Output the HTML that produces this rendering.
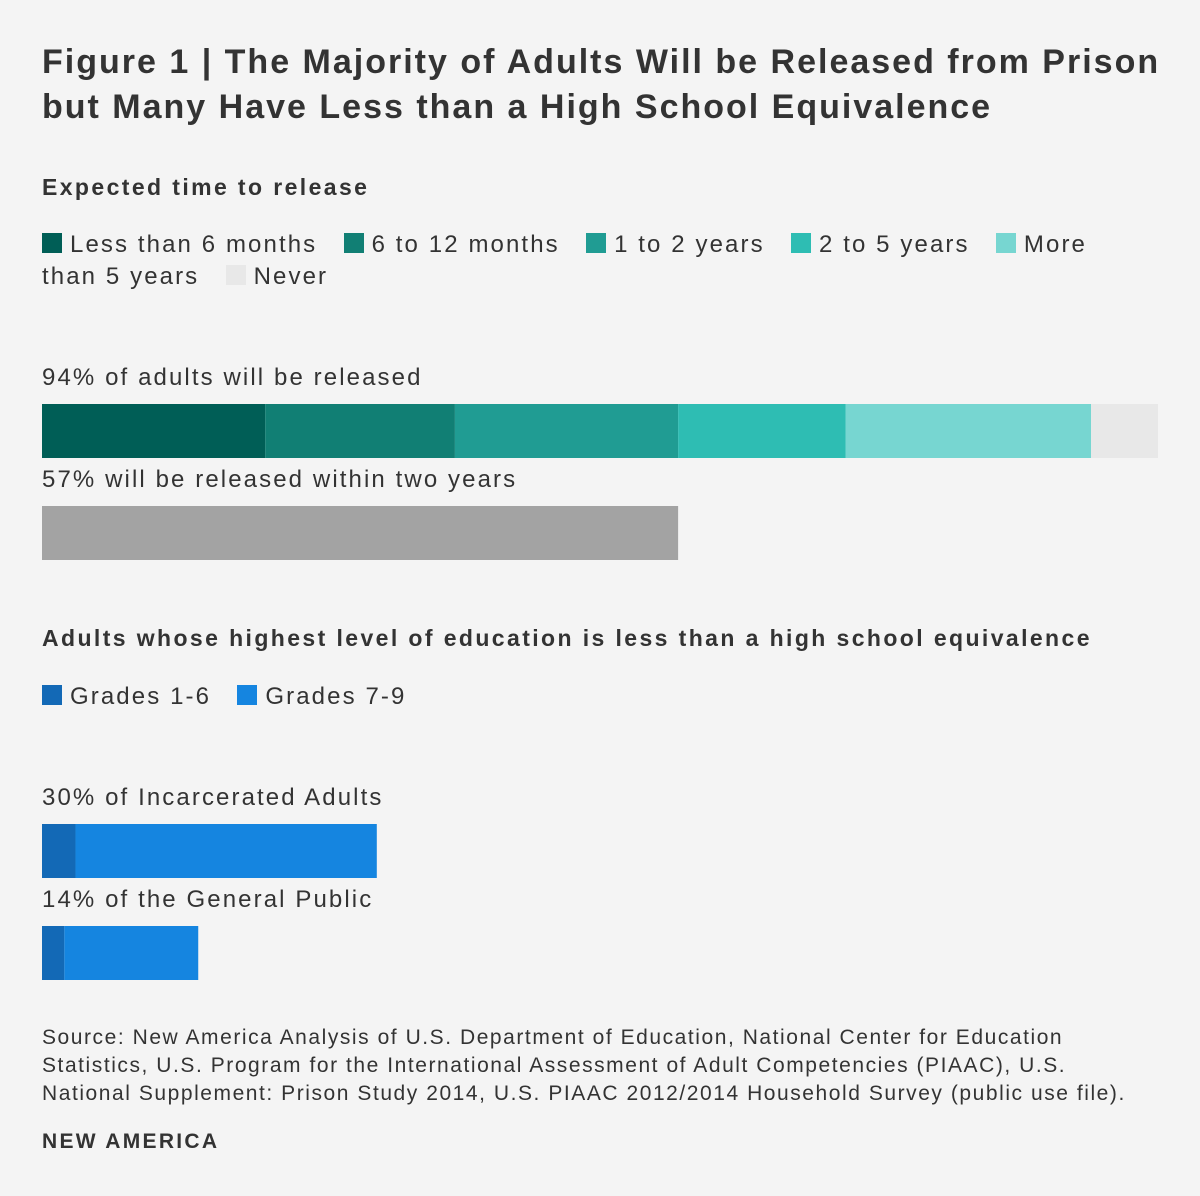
<!DOCTYPE html>
<html><head><meta charset="utf-8"><style>
body{margin:0;background:#f4f4f4;}
#root{position:relative;width:1200px;height:1196px;background:#f4f4f4;font-family:"Liberation Sans",sans-serif;color:#333;overflow:hidden}
.t{position:absolute;left:42px;white-space:nowrap}
.title{font-size:34px;font-weight:bold;line-height:45px;top:40px;color:#333;letter-spacing:2.0px}
.h{font-size:23px;font-weight:bold;letter-spacing:2.4px}
.lg{font-size:24px;line-height:32px;letter-spacing:2.1px}
.sw{display:inline-block;width:20px;height:20px;margin-right:8px;vertical-align:-1px}
.lab{font-size:24px;letter-spacing:2.1px}
.src{font-size:21px;line-height:28px;letter-spacing:1.55px}
svg{position:absolute;left:0;top:0}
</style></head><body>
<div id="root">
<div class="t title">Figure 1 | The Majority of Adults Will be Released from Prison<br>but Many Have Less than a High School Equivalence</div>
<div class="t h" style="top:174px">Expected time to release</div>
<div class="t lg" style="top:229px">
<span><span class="sw" style="background:#005e56"></span>Less than 6 months</span>&nbsp;&nbsp;
<span><span class="sw" style="background:#117f74"></span>6 to 12 months</span>&nbsp;&nbsp;
<span><span class="sw" style="background:#209c93"></span>1 to 2 years</span>&nbsp;&nbsp;
<span><span class="sw" style="background:#2ebdb3"></span>2 to 5 years</span>&nbsp;&nbsp;
<span><span class="sw" style="background:#77d6d1"></span>More<br>than 5 years</span>&nbsp;&nbsp;
<span><span class="sw" style="background:#e8e8e8"></span>Never</span>
</div>
<div class="t lab" style="top:364px">94% of adults will be released</div>
<div class="t lab" style="top:466px">57% will be released within two years</div>
<div class="t h" style="top:625px">Adults whose highest level of education is less than a high school equivalence</div>
<div class="t lg" style="top:681px">
<span><span class="sw" style="background:#1369b6"></span>Grades 1-6</span>&nbsp;&nbsp;
<span><span class="sw" style="background:#1585e0"></span>Grades 7-9</span>
</div>
<div class="t lab" style="top:784px">30% of Incarcerated Adults</div>
<div class="t lab" style="top:886px">14% of the General Public</div>
<div class="t src" style="top:1024px">Source: New America Analysis of U.S. Department of Education, National Center for Education<br>Statistics, U.S. Program for the International Assessment of Adult Competencies (PIAAC), U.S.<br>National Supplement: Prison Study 2014, U.S. PIAAC 2012/2014 Household Survey (public use file).</div>
<div class="t" style="top:1130px;font-size:21px;font-weight:bold;letter-spacing:2.3px">NEW AMERICA</div>
<svg id="bars" width="1200" height="1196"></svg>
</div>
<script>
const releaseCategories = ["Less than 6 months","6 to 12 months","1 to 2 years","2 to 5 years","More than 5 years","Never"];
const releaseValues = [20, 17, 20, 15, 22, 6];
const withinTwoYears = [57];
const eduCategories = ["Grades 1-6","Grades 7-9"];
const incarceratedValues = [3, 27];
const publicValues = [2, 12];

const releaseColors = ["#005e56","#117f74","#209c93","#2ebdb3","#77d6d1","#e8e8e8"];
const eduColors = ["#1369b6","#1585e0"];
const x0 = 42, plotW = 1116;
function xs(v){ return v / 100 * plotW; }
const svg = document.getElementById('bars');
function stack(vals, colors, y, h, name){
  let acc = 0;
  vals.forEach((v,i)=>{
    const r = document.createElementNS('http://www.w3.org/2000/svg','rect');
    r.setAttribute('x', x0 + xs(acc));
    r.setAttribute('y', y);
    r.setAttribute('width', xs(v));
    r.setAttribute('height', h);
    r.setAttribute('fill', colors[i]);
    
    
    svg.appendChild(r);
    acc += v;
  });
}
stack(releaseValues, releaseColors, 404, 54, 'release-bar');
stack(withinTwoYears, ["#a3a3a3"], 506, 54, 'two-years-bar');
stack(incarceratedValues, eduColors, 824, 54, 'incarcerated-bar');
stack(publicValues, eduColors, 926, 54, 'public-bar');
</script>
</body></html>
